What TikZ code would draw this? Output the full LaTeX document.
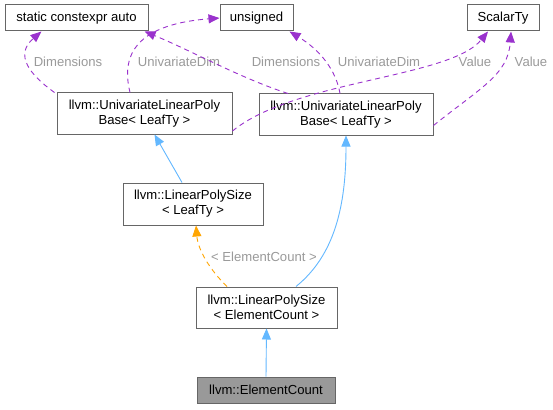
\documentclass[tikz,border=0pt]{standalone}
\usepackage{fontspec}
\setmainfont{Liberation Sans}
\usetikzlibrary{arrows.meta,calc}
\definecolor{edgepurple}{HTML}{9A32CD}
\definecolor{edgeblue}{HTML}{63B8FF}
\definecolor{edgeorange}{HTML}{FFA500}
\definecolor{labelgrey}{HTML}{9A9A9A}
\definecolor{boxborder}{HTML}{666666}
\definecolor{boxfill}{HTML}{999999}
\begin{document}
\begin{tikzpicture}[x=1pt,y=-1pt,
  font=\fontsize{13.1}{15}\selectfont,
  box/.style={draw=boxborder,line width=1pt,fill=white,rectangle,inner sep=0pt,align=center,text=black},
  usedep/.style={draw=edgepurple,line width=0.9pt,dash pattern=on 5pt off 4pt,-{Triangle[length=11pt,width=9pt,fill=edgepurple]}},
  inherit/.style={draw=edgeblue,line width=0.9pt,-{Triangle[length=11pt,width=9pt,fill=edgeblue]}},
  tmpl/.style={draw=edgeorange,line width=0.9pt,dash pattern=on 5pt off 4pt,-{Triangle[length=11pt,width=9pt,fill=edgeorange]}},
  lbl/.style={text=labelgrey,inner sep=0pt}]
\useasboundingbox (0,0) rectangle (553,409);
\fill[white] (0,0) rectangle (553,409);

\node[box,minimum width=143pt,minimum height=26pt] (sca) at (76.5,18) {static constexpr auto};
\node[box,minimum width=73pt,minimum height=26pt] (uns) at (256.5,18) {unsigned};
\node[box,minimum width=72pt,minimum height=26pt] (scl) at (503,18) {ScalarTy};
\node[box,minimum width=175pt,minimum height=41pt] (ulpbL) at (144.5,113.5) {llvm::UnivariateLinearPoly\\Base\textless{} LeafTy \textgreater};
\node[box,minimum width=174pt,minimum height=41pt] (ulpbR) at (346,114.5) {llvm::UnivariateLinearPoly\\Base\textless{} LeafTy \textgreater};
\node[box,minimum width=140pt,minimum height=42pt] (lpsL) at (193,204) {llvm::LinearPolySize\\\textless{} LeafTy \textgreater};
\node[box,minimum width=141pt,minimum height=41pt] (lpsE) at (266.5,307.5) {llvm::LinearPolySize\\\textless{} ElementCount \textgreater};
\node[box,fill=boxfill,minimum width=138pt,minimum height=26pt] (ec) at (266,390) {llvm::ElementCount};

% purple usage edges
\draw[usedep] ([xshift=-2pt]ulpbL.north west) .. controls (30,75) and (14,55) .. ([xshift=-35pt]sca.south);
\node[lbl] (l1) at (68,62) {Dimensions};

\draw[usedep] ([xshift=-14.5pt]ulpbL.north) .. controls (122,60) and (130,25) .. (uns.west);
\node[lbl] (l2) at (179,62) {UnivariateDim};

\draw[usedep] ([xshift=-58pt]ulpbR.north) .. controls (240,78) and (190,50) .. ([xshift=68pt]sca.south);
\node[lbl] (l3) at (286,62) {Dimensions};

\draw[usedep] ([xshift=-6pt]ulpbR.north) .. controls (336,70) and (320,50) .. ([xshift=33pt]uns.south);
\node[lbl] (l4) at (379,62) {UnivariateDim};

\draw[usedep] ([yshift=-17.5pt]ulpbL.east) .. controls (295,80) and (450,78) .. ([xshift=-15pt]scl.south);
\node[lbl] (l5) at (475,62) {Value};

\draw[usedep] ([yshift=-11pt]ulpbR.east) .. controls (480,88) and (508,75) .. ([xshift=8pt]scl.south);
\node[lbl] (l6) at (531,62) {Value};

% inheritance
\draw[inherit] ([xshift=-11pt]lpsL.north) -- ([xshift=10pt]ulpbL.south);
\draw[inherit] ([xshift=29.5pt]lpsE.north) .. controls (335,255) and (346,205) .. (ulpbR.south);
\draw[inherit] (ec.north) -- (lpsE.south);

% template instantiation
\draw[tmpl] ([xshift=-39.5pt]lpsE.north) .. controls (210,270) and (198,250) .. ([xshift=3pt]lpsL.south);
\node[lbl] (l7) at (264,257) {\textless{} ElementCount \textgreater};
\end{tikzpicture}
\end{document}
